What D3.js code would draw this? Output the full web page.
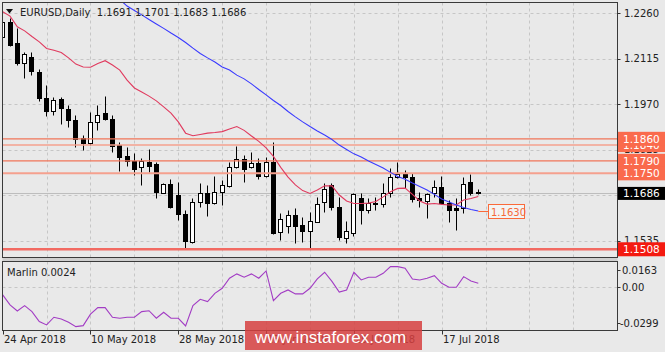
<!DOCTYPE html>
<html><head><meta charset="utf-8">
<script src="https://cdn.jsdelivr.net/npm/d3@7"></script>
<style>html,body{margin:0;padding:0;background:#e9e9e9;} svg{display:block;}</style>
</head><body><svg id="c" width="665" height="352"></svg>
<script>
// ---------------- DATA ----------------
const title = "EURUSD,Daily  1.1691 1.1701 1.1683 1.1686";
const tickIdx = [0, 12, 24, 36, 48, 60];
const tickLabels = ["24 Apr 2018", "10 May 2018", "28 May 2018", "13 Jun 2018", "29 Jun 2018", "17 Jul 2018"];
const priceTicks = [1.2260, 1.2115, 1.1970, 1.1825, 1.1680, 1.1535];
const open  = [1.2185,1.2233,1.2164,1.2103,1.2122,1.2072,1.1989,1.1949,1.1988,1.1956,1.1920,1.1862,1.1846,1.1915,1.1943,1.1922,1.1840,1.1806,1.1790,1.1769,1.1786,1.1779,1.1688,1.1716,1.1681,1.1620,1.1532,1.1658,1.1686,1.1654,1.1692,1.1711,1.1769,1.1796,1.1771,1.1782,1.1742,1.1787,1.1564,1.1582,1.1617,1.1585,1.1566,1.1596,1.1660,1.1713,1.1644,1.1545,1.1561,1.1670,1.1633,1.1653,1.1651,1.1686,1.1739,1.1747,1.1739,1.1670,1.1663,1.1686,1.1707,1.1656,1.1639,1.1639,1.1721,1.1691];
const high  = [1.2244,1.2244,1.2212,1.2138,1.2138,1.2083,1.2032,1.1992,1.1992,1.1968,1.1936,1.1872,1.1946,1.1968,1.1996,1.1936,1.1851,1.1835,1.1814,1.1798,1.1827,1.1787,1.1720,1.1731,1.1721,1.1633,1.1670,1.1720,1.1713,1.1742,1.1729,1.1787,1.1837,1.1808,1.1819,1.1798,1.1803,1.1851,1.1623,1.1633,1.1640,1.1612,1.1628,1.1676,1.1718,1.1718,1.1674,1.1599,1.1686,1.1686,1.1670,1.1676,1.1718,1.1766,1.1787,1.1761,1.1750,1.1692,1.1688,1.1729,1.1742,1.1665,1.1670,1.1739,1.1748,1.1701];
const low   = [1.2180,1.2156,1.2095,1.2053,1.2063,1.1981,1.1933,1.1936,1.1907,1.1899,1.1835,1.1824,1.1840,1.1888,1.1920,1.1817,1.1758,1.1774,1.1745,1.1713,1.1753,1.1672,1.1686,1.1639,1.1601,1.1508,1.1527,1.1644,1.1615,1.1652,1.1649,1.1707,1.1766,1.1723,1.1766,1.1732,1.1737,1.1556,1.1538,1.1559,1.1527,1.1532,1.1508,1.1594,1.1628,1.1633,1.1538,1.1529,1.1551,1.1588,1.1623,1.1633,1.1644,1.1676,1.1734,1.1702,1.1660,1.1644,1.1607,1.1676,1.1652,1.1596,1.1569,1.1623,1.1681,1.1683];
const close = [1.2233,1.2159,1.2103,1.2130,1.2076,1.1989,1.1949,1.1984,1.1957,1.1920,1.1859,1.1846,1.1915,1.1936,1.1922,1.1837,1.1803,1.1790,1.1764,1.1790,1.1774,1.1692,1.1716,1.1642,1.1620,1.1534,1.1658,1.1686,1.1654,1.1692,1.1713,1.1769,1.1796,1.1764,1.1782,1.1742,1.1787,1.1561,1.1604,1.1617,1.1582,1.1566,1.1598,1.1651,1.1699,1.1644,1.1546,1.1566,1.1684,1.1633,1.1656,1.1654,1.1688,1.1739,1.1747,1.1739,1.1667,1.1665,1.1683,1.1707,1.1654,1.1633,1.1633,1.1716,1.1686,1.1686];
const maRed = [1.2265,1.2251,1.2217,1.2204,1.2186,1.2169,1.2148,1.2142,1.2135,1.2118,1.2098,1.2089,1.2088,1.2100,1.2109,1.2095,1.2079,1.2047,1.2022,1.2009,1.1996,1.1981,1.1962,1.1942,1.1914,1.1878,1.1870,1.1874,1.1878,1.1880,1.1883,1.1891,1.1899,1.1887,1.1869,1.1852,1.1831,1.1804,1.1769,1.1738,1.1713,1.1695,1.1686,1.1697,1.1710,1.1710,1.1681,1.1662,1.1654,1.1654,1.1655,1.1660,1.1675,1.1691,1.1702,1.1703,1.1683,1.1662,1.1652,1.1654,1.1651,1.1649,1.1649,1.1665,1.1670,1.1676];
const maBlue = [null,null,null,null,null,null,null,null,null,null,null,null,null,null,null,null,1.2304,1.2283,1.2269,1.2255,1.2240,1.2226,1.2212,1.2197,1.2183,1.2167,1.2149,1.2132,1.2118,1.2105,1.2089,1.2079,1.2063,1.2051,1.2035,1.2017,1.2000,1.1982,1.1966,1.1947,1.1930,1.1914,1.1899,1.1885,1.1872,1.1858,1.1840,1.1826,1.1812,1.1802,1.1789,1.1778,1.1767,1.1753,1.1740,1.1731,1.1719,1.1708,1.1697,1.1683,1.1668,1.1659,1.1649,1.1641,1.1635,1.1630];
const marlin = [-0.0057,-0.0126,-0.0168,-0.0131,-0.0172,-0.0241,-0.0264,-0.0211,-0.0223,-0.0246,-0.0276,-0.0269,-0.0190,-0.0145,-0.0145,-0.0211,-0.0218,-0.0211,-0.0211,-0.0172,-0.0166,-0.0218,-0.0177,-0.0218,-0.0218,-0.0271,-0.0131,-0.0087,-0.0103,-0.0046,-0.0011,0.0058,0.0088,0.0065,0.0088,0.0058,0.0108,-0.0097,-0.0046,-0.0023,-0.0050,-0.0050,-0.0011,0.0053,0.0099,0.0036,-0.0038,-0.0023,0.0099,0.0046,0.0065,0.0065,0.0092,0.0138,0.0138,0.0127,0.0053,0.0046,0.0058,0.0076,0.0023,-0.0004,-0.0004,0.0069,0.0039,0.0024];
const levelValues = [1.1840, 1.1860, 1.1790, 1.1750, 1.1508];
const subTicks = [0.0163, 0.00, -0.0299];
const subTickText = ["0.0163", "0.00", "-0.0299"];
const bid = 1.1686;
const marlinLabel = "Marlin 0.0024";
const watermark = "www.instaforex.com";

// ---------------- STYLES / LAYOUT ----------------
const font = "DejaVu Sans, Verdana, sans-serif";
const L = 2.5, R = 617.5, MT = 2.5, MB = 257.5, ST = 261.5, SB = 330.5;
const levelStroke = ["#f5a08e", "#f07458", "#f07458", "#f5a08e", "#f26a62"];
const levelWidth = [1.5, 1.2, 1.2, 2, 2.5];
const levelBox = ["#fa6a4c", "#fa6a4c", "#fa6a4c", "#fa6a4c", "#f41a10"];

const svg = d3.select("#c");
const x = d3.scaleLinear().domain([0, 84]).range([2.7, 617.3]);
const y = d3.scaleLinear().domain([1.1535, 1.2260]).range([240.8, 13.3]);
const ys = d3.scaleLinear().domain([-0.0299, 0.0163]).range([330, 263]);

svg.append("rect").attr("width", 665).attr("height", 352).attr("fill", "#e9e9e9");
svg.append("rect").attr("x", L).attr("y", MB).attr("width", R - L).attr("height", ST - MB).attr("fill", "#cfcfcf");

const defs = svg.append("defs");
defs.append("clipPath").attr("id", "cm").append("rect").attr("x", L).attr("y", MT).attr("width", R - L).attr("height", MB - MT);
defs.append("clipPath").attr("id", "cs").append("rect").attr("x", L).attr("y", ST).attr("width", R - L).attr("height", SB - ST);

const grid = "#c6c6c6";
const vIdx = d3.range(6, 84, 6);
// vertical grid
[[MT, MB], [ST, SB]].forEach(([a, b]) => {
  svg.append("g").selectAll("line").data(vIdx).join("line")
    .attr("x1", d => Math.round(x(d)) + 0.5).attr("x2", d => Math.round(x(d)) + 0.5)
    .attr("y1", a).attr("y2", b)
    .attr("stroke", grid).attr("stroke-dasharray", "3,3");
});
// horizontal grid
svg.append("g").selectAll("line").data(priceTicks).join("line")
  .attr("x1", L).attr("x2", R)
  .attr("y1", d => Math.round(y(d)) + 0.5).attr("y2", d => Math.round(y(d)) + 0.5)
  .attr("stroke", grid).attr("stroke-dasharray", "3,3");
svg.append("line").attr("x1", L).attr("x2", R).attr("y1", Math.round(ys(0)) + 0.5).attr("y2", Math.round(ys(0)) + 0.5)
  .attr("stroke", grid).attr("stroke-dasharray", "3,3");

const gm = svg.append("g").attr("clip-path", "url(#cm)");
// bid line
gm.append("line").attr("x1", L).attr("x2", R).attr("y1", Math.round(y(bid)) + 0.5).attr("y2", Math.round(y(bid)) + 0.5)
  .attr("stroke", "#bdbdbd");

// candles
const idx = d3.range(open.length);
const cg = gm.append("g");
idx.forEach(i => {
  const px = Math.floor(x(i)) + 0.5;
  cg.append("line").attr("x1", px).attr("x2", px)
    .attr("y1", Math.round(y(high[i])) + 0.5).attr("y2", Math.round(y(low[i])) + 0.5)
    .attr("stroke", "#000");
  const top = Math.round(y(Math.max(open[i], close[i]))) + 0.5;
  const bot = Math.round(y(Math.min(open[i], close[i]))) + 0.5;
  const up = close[i] >= open[i];
  cg.append("rect").attr("x", px - 2).attr("width", 4)
    .attr("y", top).attr("height", Math.max(0, bot - top))
    .attr("fill", up ? "#fff" : "#000").attr("stroke", "#000");
});

// levels
levelValues.forEach((v, k) => {
  gm.append("line").attr("x1", L).attr("x2", R).attr("y1", y(v)).attr("y2", y(v))
    .attr("stroke", levelStroke[k]).attr("stroke-width", levelWidth[k]);
});

// MAs
const line = d3.line().defined(d => d != null).x((d, i) => x(i)).y(d => y(d));
gm.append("path").attr("d", line(maRed)).attr("fill", "none").attr("stroke", "#e03a5e").attr("stroke-width", 1.1);
gm.append("path").attr("d", line(maBlue)).attr("fill", "none").attr("stroke", "#3a3aff").attr("stroke-width", 1.1);

// 1.1630 label for blue MA
const last = maBlue.length - 1;
const by = Math.round(y(maBlue[last])) + 0.5;
svg.append("line").attr("x1", x(last)).attr("x2", 488).attr("y1", by).attr("y2", by).attr("stroke", "#fa6a3a");
svg.append("rect").attr("x", 488.5).attr("y", by - 7).attr("width", 36).attr("height", 14)
  .attr("fill", "#f3f3f3").attr("stroke", "#fa6a3a");
svg.append("text").attr("x", 491).attr("y", by + 4).attr("font-family", font).attr("font-size", 10)
  .attr("fill", "#f46a3a").text(maBlue[last].toFixed(4));

// subpanel marlin
const gs = svg.append("g").attr("clip-path", "url(#cs)");
gs.append("path").attr("d", d3.line().x((d, i) => x(i)).y(d => ys(d))(marlin))
  .attr("fill", "none").attr("stroke", "#a23cc4").attr("stroke-width", 1.1);

// frames
svg.append("rect").attr("x", L).attr("y", MT).attr("width", R - L).attr("height", MB - MT).attr("fill", "none").attr("stroke", "#3a3a3a");
svg.append("rect").attr("x", L).attr("y", ST).attr("width", R - L).attr("height", SB - ST).attr("fill", "none").attr("stroke", "#3a3a3a");

// title
svg.append("path").attr("d", "M6,9 L13,9 L9.5,13.5 Z").attr("fill", "#111");
svg.append("text").attr("x", 20).attr("y", 16).attr("font-family", font).attr("font-size", 10)
  .attr("fill", "#222").attr("xml:space", "preserve").style("white-space", "pre").text(title);
svg.append("text").attr("x", 7).attr("y", 275.5).attr("font-family", font).attr("font-size", 10)
  .attr("fill", "#222").text(marlinLabel);

// right price axis
const ax = svg.append("g");
ax.selectAll("line").data(priceTicks).join("line")
  .attr("x1", R).attr("x2", R + 3).attr("y1", d => Math.round(y(d)) + 0.5).attr("y2", d => Math.round(y(d)) + 0.5).attr("stroke", "#333");
ax.selectAll("text").data(priceTicks).join("text")
  .attr("x", 624).attr("y", d => y(d) + 3.5).attr("font-family", font).attr("font-size", 10).attr("fill", "#222")
  .text(d => d.toFixed(4));

// level boxes
levelValues.forEach((v, k) => {
  const cy = y(v);
  svg.append("rect").attr("x", 618).attr("y", cy - 7).attr("width", 47).attr("height", 14).attr("fill", levelBox[k]);
  svg.append("text").attr("x", 623).attr("y", cy + 4).attr("font-family", font).attr("font-size", 10.5)
    .attr("fill", "#fff").text(v.toFixed(4));
});
// bid box
svg.append("rect").attr("x", 618).attr("y", y(bid) - 6.5).attr("width", 47).attr("height", 13).attr("fill", "#000");
svg.append("text").attr("x", 623).attr("y", y(bid) + 4).attr("font-family", font).attr("font-size", 10.5)
  .attr("fill", "#fff").text(bid.toFixed(4));

// sub axis
const subY = [270.5, 287.5, 323.5];
subTicks.forEach((v, k) => {
  svg.append("line").attr("x1", R).attr("x2", R + 3).attr("y1", subY[k]).attr("y2", subY[k]).attr("stroke", "#333");
  svg.append("text").attr("x", k === 2 ? 620 : 622).attr("y", subY[k] + 3.5).attr("font-family", font).attr("font-size", 10)
    .attr("fill", "#222").text(subTickText[k]);
});

// x axis
tickIdx.forEach((t, k) => {
  const px = Math.round(x(t)) + 0.5;
  svg.append("line").attr("x1", px).attr("x2", px).attr("y1", SB).attr("y2", SB + 4).attr("stroke", "#333");
  svg.append("text").attr("x", px + 0.5).attr("y", 343).attr("font-family", font).attr("font-size", 10)
    .attr("fill", "#222").text(tickLabels[k]);
});

// watermark
svg.append("rect").attr("x", 245).attr("y", 321).attr("width", 177).attr("height", 29)
  .attr("fill", "rgb(214,64,64)").attr("opacity", 0.85);
svg.append("text").attr("x", 255).attr("y", 342.5).attr("font-family", "Liberation Sans, Arial, sans-serif")
  .attr("font-size", 17).attr("fill", "#fff").text(watermark);
</script>
</body></html>
